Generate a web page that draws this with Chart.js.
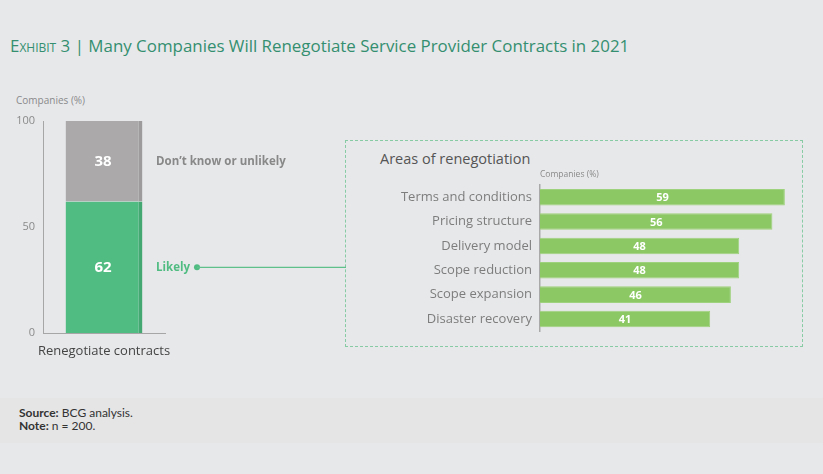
<!DOCTYPE html>
<html><head><meta charset="utf-8">
<script src="https://cdn.jsdelivr.net/npm/chart.js@4/dist/chart.umd.min.js"></script>
<style>
html,body{margin:0;padding:0;background:#e7e8ea;width:823px;height:474px;overflow:hidden;font-family:"Open Sans",sans-serif;}
.abs{position:absolute;}
#title{left:10px;top:34px;font-size:16.9px;color:#348f70;white-space:nowrap;}
#title .sc{font-variant:small-caps;}
#ylab1{left:16px;top:93px;font-size:10px;color:#8a8a8a;}
#box{left:345px;top:140px;width:456px;height:205px;border:1px dashed #86cba3;}
#areas{left:380px;top:149px;font-size:14.5px;color:#555;}
#footband{left:0;top:398px;width:823px;height:45px;background:#e5e5e6;}
#foot{left:19px;top:407px;font-size:12px;color:#333;line-height:12.8px;font-family:"Lato",sans-serif;}
</style></head>
<body>
<div id="footband" class="abs"></div>
<div id="title" class="abs"><span class="sc">Exhibit</span> 3 | Many Companies Will Renegotiate Service Provider Contracts in 2021</div>
<div id="ylab1" class="abs">Companies (%)</div>
<div id="box" class="abs"></div>
<div id="areas" class="abs">Areas of renegotiation</div>
<div class="abs" style="left:0;top:100px;width:350px;height:263px"><canvas id="c1"></canvas></div>
<div class="abs" style="left:346px;top:141px;width:457px;height:206px"><canvas id="c2"></canvas></div>
<div id="foot" class="abs"><b>Source:</b> BCG analysis.<br><b>Note:</b> n = 200.</div>
<script>
// ---- data ----
const mainCategories = ["Renegotiate contracts"];
const likelyValues = [62];
const unlikelyValues = [38];
const seriesNames = ["Likely", "Don\u2019t know or unlikely"];
const yTicks = [0, 50, 100];
const areaCategories = ["Terms and conditions","Pricing structure","Delivery model","Scope reduction","Scope expansion","Disaster recovery"];
const areaValues = [59, 56, 48, 48, 46, 41];

const GREEN = "#50bc82", GREEN_EDGE = "#44a872";
const GREY = "#aba9aa", GREY_EDGE = "#9d9b9c";

const sidePlugin = {
  id: "side",
  afterDatasetsDraw(chart) {
    const ctx = chart.ctx;
    ctx.save();
    chart.data.datasets.forEach((ds, i) => {
      const meta = chart.getDatasetMeta(i);
      const bar = meta.data[0];
      const cy = (bar.y + bar.base) / 2;
      ctx.fillStyle = "#fff";
      ctx.font = "bold 15px 'Open Sans'";
      ctx.textAlign = "center"; ctx.textBaseline = "middle";
      ctx.fillText(String(ds.data[0]), bar.x - 1, cy);
      ctx.textAlign = "left";
      ctx.font = "bold 11.5px 'Open Sans'";
      ctx.fillStyle = i === 0 ? GREEN : "#888";
      ctx.fillText(ds.label, 156, cy);
      if (i === 0) {
        const w = ctx.measureText(ds.label).width;
        const dx = 156 + w + 7;
        ctx.beginPath(); ctx.arc(dx, cy, 3, 0, Math.PI * 2); ctx.fill();
        ctx.strokeStyle = "#5fc08c"; ctx.lineWidth = 1.2;
        ctx.beginPath(); ctx.moveTo(dx, cy); ctx.lineTo(346, cy); ctx.stroke();
      }
    });
    ctx.restore();
  }
};

new Chart(document.getElementById("c1"), {
  type: "bar",
  data: {
    labels: mainCategories,
    datasets: [
      { label: seriesNames[0], data: likelyValues, backgroundColor: GREEN, borderColor: GREEN_EDGE,
        borderWidth: {left:0, right:4, top:0, bottom:0}, borderSkipped: false },
      { label: seriesNames[1], data: unlikelyValues, backgroundColor: GREY, borderColor: GREY_EDGE,
        borderWidth: {left:0, right:4, top:0, bottom:0}, borderSkipped: false }
    ]
  },
  options: {
    responsive: true, maintainAspectRatio: false, animation: false,
    layout: { padding: { top: 21, right: 185, left: 0, bottom: 0 } },
    plugins: { legend: { display: false }, tooltip: { enabled: false } },
    datasets: { bar: { barPercentage: 0.7, categoryPercentage: 0.9 } },
    scales: {
      x: { stacked: true, grid: { display: false, drawTicks: false },
           border: { display: true, color: "#a6a6a6", width: 1 },
           ticks: { color: "#444", font: { size: 13, family: "Open Sans" }, padding: 10 },
           afterFit: s => { s.height = 30; } },
      y: { stacked: true, min: 0, max: 100,
           afterBuildTicks: s => { s.ticks = yTicks.map(v => ({ value: v })); },
           grid: { display: false, drawTicks: false },
           border: { display: true, color: "#a6a6a6", width: 1 },
           ticks: { color: "#8a8a8a", font: { size: 11, family: "Open Sans" }, padding: 8 },
           afterFit: s => { s.width = 43; } }
    }
  },
  plugins: [sidePlugin]
});

const valPlugin = {
  id: "vals",
  afterDatasetsDraw(chart) {
    const ctx = chart.ctx;
    const meta = chart.getDatasetMeta(0);
    ctx.save();
    ctx.fillStyle = "#fff";
    ctx.font = "bold 11px 'Open Sans'";
    ctx.textAlign = "center"; ctx.textBaseline = "middle";
    meta.data.forEach((b, i) => {
      ctx.fillText(String(areaValues[i]), (b.x + b.base) / 2, b.y + 1);
    });
    ctx.fillStyle = "#8a8a8a";
    ctx.font = "8.5px 'Open Sans'";
    ctx.textAlign = "left";
    ctx.fillText("Companies (%)", chart.chartArea.left, chart.chartArea.top - 10);
    ctx.restore();
  }
};

new Chart(document.getElementById("c2"), {
  type: "bar",
  data: { labels: areaCategories,
    datasets: [{ label: "Companies (%)", data: areaValues, backgroundColor: "#8cc965",
      borderColor: "#9fd27d", borderWidth: 1 }] },
  options: {
    indexAxis: "y", responsive: true, maintainAspectRatio: false, animation: false,
    layout: { padding: { top: 44, right: 14, left: 0, bottom: 11 } },
    plugins: { legend: { display: false }, tooltip: { enabled: false } },
    datasets: { bar: { barPercentage: 0.68, categoryPercentage: 1 } },
    scales: {
      x: { display: false, min: 0, max: 60 },
      y: { grid: { display: false, drawTicks: false },
           border: { display: true, color: "#a9a9a9", width: 1.5 },
           ticks: { color: "#7d7d7d", font: { size: 13, family: "Open Sans" }, padding: 8 },
           afterFit: s => { s.width = 194; } }
    }
  },
  plugins: [valPlugin]
});
</script>
</body></html>
